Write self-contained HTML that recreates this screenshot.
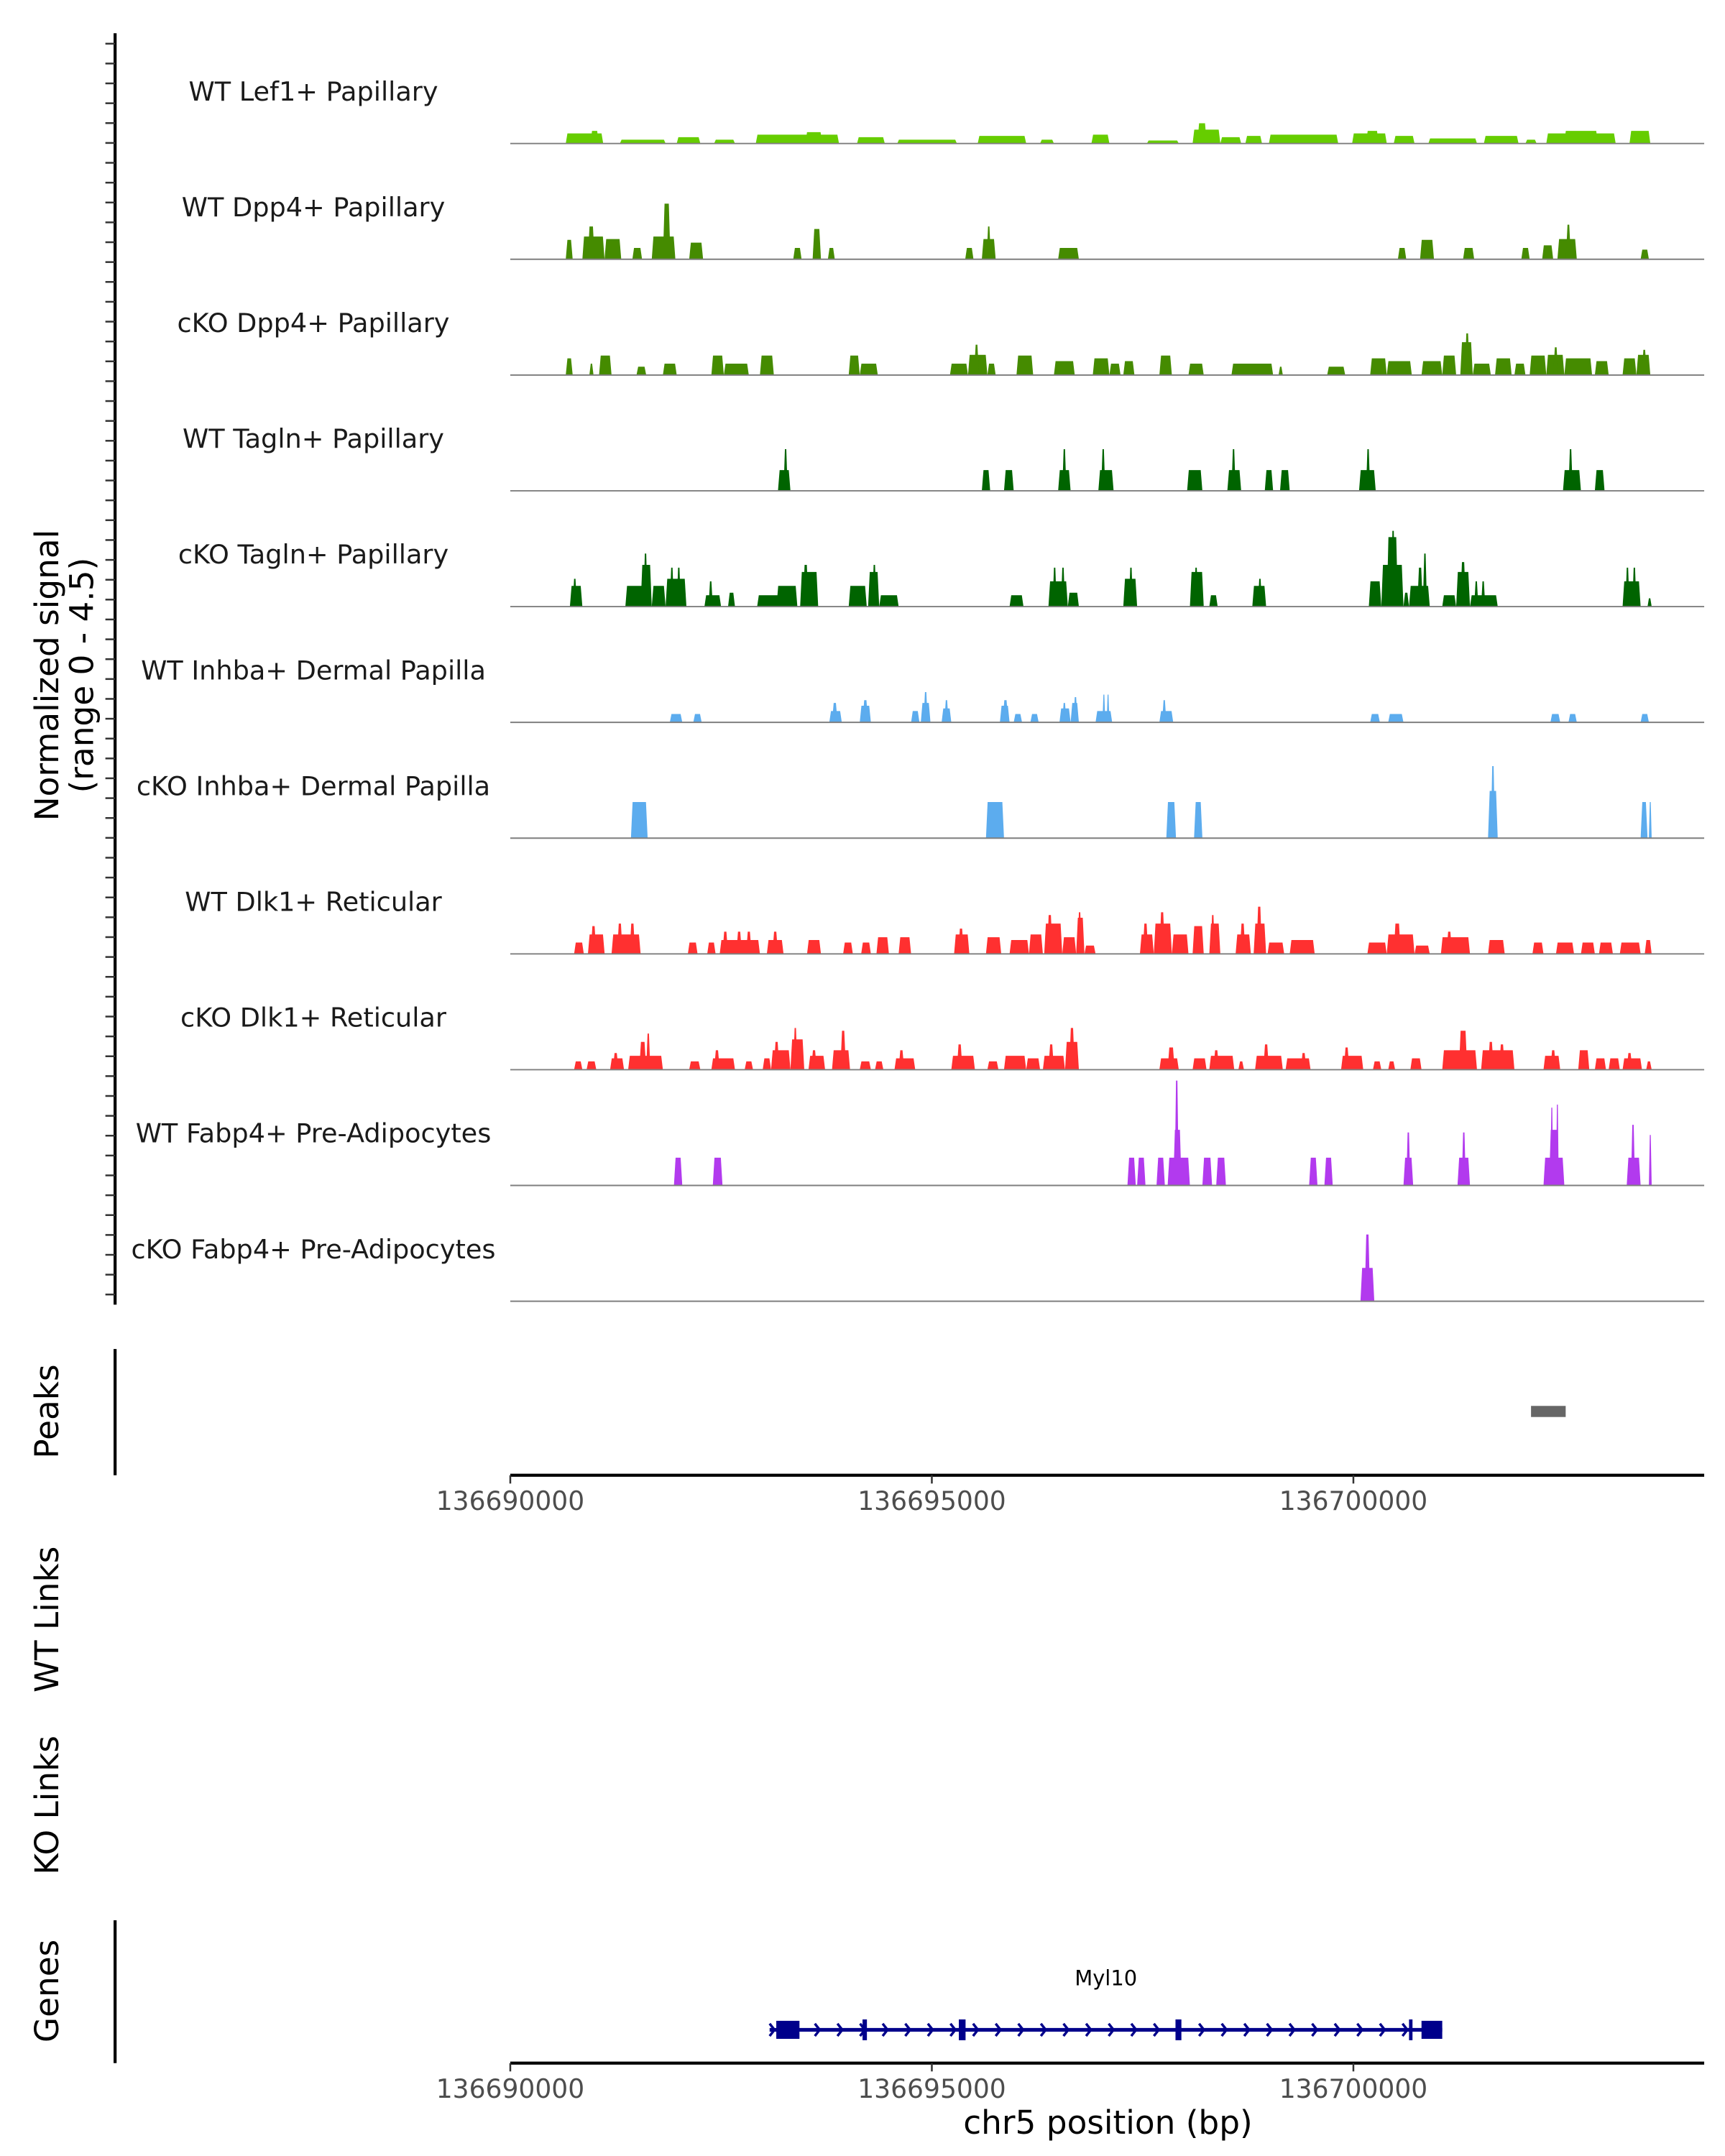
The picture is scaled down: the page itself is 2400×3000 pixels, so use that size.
<!DOCTYPE html>
<html><head><meta charset="utf-8"><style>
html,body{margin:0;padding:0;background:#fff;}
svg{display:block;}
text{font-family:"DejaVu Sans","Liberation Sans",sans-serif;}
</style></head><body>
<svg id="chart" xmlns="http://www.w3.org/2000/svg" width="2400" height="3000" viewBox="0 0 1244 1555" preserveAspectRatio="none">
<rect x="0" y="0" width="1244" height="1555" fill="#fff"/>
<g id="tracks"></g>
<g id="axes"></g>
</svg>
<script>
const REGION_START = 136690000;
const REGION_END = 136704161;
const Y_MAX = 4.5;
const trackNames = ["WT Lef1+ Papillary","WT Dpp4+ Papillary","cKO Dpp4+ Papillary","WT Tagln+ Papillary","cKO Tagln+ Papillary","WT Inhba+ Dermal Papilla","cKO Inhba+ Dermal Papilla","WT Dlk1+ Reticular","cKO Dlk1+ Reticular","WT Fabp4+ Pre-Adipocytes","cKO Fabp4+ Pre-Adipocytes"];
const trackColors = ["#66cd00","#458b00","#458b00","#006400","#006400","#5cacee","#5cacee","#ff3030","#ff3030","#b23aee","#b23aee"];
// segments: [startOffsetBp, endOffsetBp, signal]
const lef1WT = [[658,1102,0.4],[950,1050,0.5],[1300,1842,0.15],[1974,2254,0.25],[2418,2665,0.15],[2912,3899,0.35],[3500,3700,0.45],[4113,4442,0.25],[4590,5297,0.15],[5544,6119,0.3],[6284,6448,0.15],[6893,7106,0.35],[7551,7929,0.12],[8093,8422,0.55],[8150,8260,0.8],[8422,8669,0.25],[8719,8916,0.3],[8998,9820,0.35],[9985,10396,0.4],[10150,10300,0.5],[10479,10725,0.3],[10890,11466,0.2],[11548,11959,0.3],[12041,12173,0.15],[12288,13111,0.4],[12500,12900,0.5],[13275,13522,0.5]];
const dpp4WT = [[658,740,0.77],[855,1118,0.9],[920,1000,1.3],[1118,1316,0.8],[1448,1563,0.45],[1678,1958,0.9],[1810,1900,2.2],[2122,2287,0.66],[3356,3455,0.45],[3586,3685,1.2],[3767,3849,0.45],[5396,5494,0.45],[5593,5757,0.8],[5650,5700,1.3],[6498,6744,0.45],[10528,10627,0.45],[10791,10956,0.77],[11301,11433,0.45],[11992,12091,0.45],[12239,12370,0.55],[12420,12650,0.8],[12520,12580,1.37],[13407,13505,0.38]];
const dpp4KO = [[658,740,0.66],[938,987,0.45],[1053,1201,0.77],[1497,1612,0.33],[1810,1974,0.45],[2385,2533,0.77],[2533,2829,0.45],[2961,3126,0.77],[4014,4145,0.77],[4145,4359,0.45],[5215,5429,0.45],[5429,5659,0.8],[5500,5560,1.2],[5659,5757,0.45],[6004,6202,0.77],[6448,6695,0.55],[6909,7106,0.66],[7106,7238,0.45],[7271,7403,0.55],[7699,7847,0.77],[8044,8225,0.45],[8554,9048,0.45],[9113,9163,0.33],[9689,9903,0.33],[10199,10396,0.66],[10396,10693,0.55],[10808,11054,0.55],[11054,11219,0.77],[11268,11416,1.3],[11320,11380,1.65],[11416,11630,0.45],[11680,11877,0.66],[11910,12041,0.45],[12091,12288,0.77],[12288,12502,0.8],[12370,12430,1.1],[12502,12831,0.66],[12864,13028,0.55],[13193,13357,0.66],[13357,13522,0.8],[13420,13480,1.0]];
const taglnWT = [[3175,3323,0.82],[3241,3290,1.65],[5593,5692,0.82],[5856,5971,0.82],[6498,6646,0.82],[6547,6596,1.65],[6975,7156,0.82],[7008,7057,1.65],[8028,8209,0.82],[8505,8669,0.82],[8554,8603,1.65],[8949,9048,0.82],[9130,9245,0.82],[10067,10265,0.82],[10150,10199,1.65],[12486,12699,0.82],[12551,12601,1.65],[12864,12979,0.82]];
const taglnKO = [[707,855,0.82],[740,790,1.1],[1365,1645,0.82],[1546,1678,1.65],[1579,1629,2.1],[1678,1842,0.82],[1842,2089,1.1],[1892,1941,1.54],[1974,2023,1.54],[2303,2500,0.45],[2352,2402,1.0],[2583,2665,0.55],[2928,3241,0.45],[3158,3405,0.82],[3438,3652,1.37],[3471,3537,1.65],[4014,4228,0.82],[4244,4376,1.37],[4293,4343,1.65],[4376,4606,0.45],[5922,6087,0.45],[6383,6613,1.0],[6432,6481,1.54],[6531,6580,1.54],[6613,6744,0.55],[7271,7435,1.1],[7337,7386,1.54],[8061,8225,1.37],[8110,8159,1.54],[8291,8390,0.45],[8801,8965,0.82],[8867,8916,1.1],[10183,10331,1.0],[10331,10594,1.65],[10396,10528,2.75],[10446,10496,3.0],[10594,10660,0.55],[10660,10906,0.82],[10758,10824,1.54],[10824,10873,2.1],[11054,11219,0.45],[11219,11383,1.37],[11268,11334,1.76],[11383,11712,0.45],[11433,11482,1.0],[11515,11564,1.0],[13193,13407,1.0],[13226,13275,1.54],[13308,13357,1.54],[13489,13538,0.33]];
const inhbaWT = [[1892,2040,0.33],[2171,2270,0.33],[3784,3932,0.45],[3816,3882,0.77],[4145,4277,0.66],[4178,4244,0.88],[4754,4853,0.45],[4869,4984,0.77],[4902,4951,1.2],[5116,5231,0.55],[5149,5198,0.88],[5807,5922,0.66],[5840,5906,0.88],[5971,6070,0.33],[6169,6267,0.33],[6514,6646,0.55],[6547,6596,0.77],[6646,6744,0.77],[6679,6728,1.0],[6942,7139,0.45],[7024,7057,1.1],[7074,7106,1.1],[7699,7863,0.45],[7732,7781,0.88],[10199,10314,0.33],[10413,10594,0.33],[12337,12453,0.33],[12551,12650,0.33],[13407,13505,0.33]];
const inhbaKO = [[1431,1629,1.43],[5642,5856,1.43],[7781,7896,1.43],[8110,8209,1.43],[11597,11712,1.87],[11630,11680,2.85],[13407,13489,1.43],[13505,13538,1.43]];
const dlk1WT = [[757,872,0.45],[921,1119,0.77],[954,1020,1.1],[1201,1546,0.77],[1267,1332,1.2],[1415,1481,1.2],[2106,2221,0.45],[2336,2435,0.45],[2484,2961,0.55],[2517,2583,0.88],[2681,2747,0.88],[2797,2862,0.88],[3043,3241,0.55],[3109,3175,0.88],[3520,3685,0.55],[3948,4063,0.45],[4162,4277,0.45],[4343,4491,0.66],[4606,4754,0.66],[5264,5445,0.77],[5313,5379,1.0],[5642,5823,0.66],[5922,6152,0.55],[6152,6317,0.77],[6333,6547,1.2],[6366,6432,1.54],[6547,6712,0.66],[6712,6810,1.43],[6728,6777,1.65],[6810,6942,0.33],[7468,7633,0.77],[7501,7567,1.2],[7633,7847,1.2],[7699,7764,1.65],[7847,8044,0.77],[8093,8225,1.1],[8291,8422,1.2],[8307,8357,1.54],[8603,8784,0.77],[8653,8719,1.2],[8817,8965,1.2],[8850,8916,1.87],[8982,9179,0.45],[9245,9541,0.55],[10166,10396,0.45],[10396,10725,0.77],[10479,10561,1.2],[10725,10906,0.33],[11038,11383,0.66],[11104,11170,0.88],[11597,11795,0.55],[12124,12255,0.45],[12403,12617,0.45],[12699,12864,0.45],[12913,13078,0.45],[13160,13407,0.45],[13456,13538,0.55]];
const dlk1KO = [[757,855,0.33],[905,1020,0.33],[1184,1349,0.45],[1217,1283,0.66],[1398,1810,0.55],[1530,1612,1.1],[1612,1661,1.43],[2122,2254,0.33],[2385,2665,0.45],[2418,2484,0.77],[2780,2879,0.33],[2994,3093,0.45],[3093,3323,0.77],[3126,3191,1.1],[3323,3487,1.2],[3356,3405,1.65],[3537,3734,0.55],[3570,3635,0.77],[3816,4030,0.77],[3915,3981,1.54],[4145,4277,0.33],[4326,4425,0.33],[4557,4803,0.45],[4606,4672,0.77],[5231,5511,0.55],[5297,5363,1.0],[5659,5790,0.33],[5856,6119,0.55],[6119,6284,0.45],[6317,6580,0.55],[6383,6448,1.0],[6580,6744,1.1],[6629,6695,1.65],[7699,7929,0.45],[7797,7880,0.88],[8093,8258,0.45],[8291,8587,0.55],[8340,8406,0.77],[8636,8702,0.33],[8834,9163,0.55],[8932,8998,1.0],[9196,9492,0.45],[9377,9442,0.66],[9854,10117,0.55],[9887,9952,0.88],[10232,10331,0.33],[10413,10495,0.33],[10676,10808,0.45],[11054,11466,0.77],[11252,11350,1.54],[11515,11910,0.77],[11597,11663,1.1],[11729,11795,1.0],[12255,12453,0.55],[12337,12403,0.77],[12667,12798,0.77],[12864,12996,0.45],[13028,13160,0.45],[13193,13423,0.45],[13242,13308,0.66],[13473,13538,0.33]];
const fabp4WT = [[1941,2040,1.1],[2402,2517,1.1],[7320,7419,1.1],[7435,7534,1.1],[7665,7764,1.1],[7797,8061,1.1],[7863,7962,2.2],[7880,7929,4.15],[8209,8324,1.1],[8373,8488,1.1],[9475,9574,1.1],[9656,9755,1.1],[10594,10709,1.1],[10627,10676,2.1],[11235,11383,1.1],[11285,11334,2.1],[12255,12502,1.1],[12321,12436,2.2],[12337,12370,3.08],[12403,12436,3.2],[13242,13407,1.1],[13292,13341,2.4],[13505,13538,2.0]];
const fabp4KO = [[10084,10248,1.32],[10133,10199,2.64]];
const trackData = [lef1WT,dpp4WT,dpp4KO,taglnWT,taglnKO,inhbaWT,inhbaKO,dlk1WT,dlk1KO,fabp4WT,fabp4KO];
const peakRegions = [[12107,12518]];
const geneName = "Myl10";
const geneSpan = [3076,11054];
const geneExons = [[3155,3430],[4178,4230],[5320,5400],[7890,7960],[10660,10693],[10808,11054]];
const axisTicks = [136690000,136695000,136700000];

const NS="http://www.w3.org/2000/svg";
const X0=368,X1=1229;
function xs(off){return X0+off/(REGION_END-REGION_START)*(X1-X0);}
function xg(bp){return xs(bp-REGION_START);}
const TRACK_TOP=20, TRACK_H=83.5;
function mk(tag,attrs,parent){const e=document.createElementNS(NS,tag);for(const k in attrs)e.setAttribute(k,attrs[k]);parent.appendChild(e);return e;}
const tracks=document.getElementById('tracks');
const axes=document.getElementById('axes');

trackData.forEach((segs,i)=>{
  const base=TRACK_TOP+TRACK_H*(i+1);
  const ys=v=>base-v/Y_MAX*82;
  const g=mk('g',{},tracks);
  
  
  const lab=mk('text',{x:226,y:base-31,'text-anchor':'middle','font-size':19,fill:'#1a1a1a'},g);
  lab.textContent=trackNames[i];
  
  
  segs.forEach(s=>{
    const a=xs(s[0]),b=xs(s[1]),t=ys(s[2]);const r=Math.min(1.2,(b-a)/3);
    const p=mk('polygon',{points:`${a},${base} ${a+r},${t} ${b-r},${t} ${b},${base}`,fill:trackColors[i]},g);
    
    
  });
  const bl=mk('line',{x1:X0,x2:X1,y1:base,y2:base,stroke:'#7f7f7f','stroke-width':1},g);
  
  
});

// left axis for tracks
mk('line',{x1:83,x2:83,y1:24,y2:941,stroke:'#000','stroke-width':2.2},axes);
for(let y=31.5;y<=941;y+=14.32){mk('line',{x1:76,x2:83,y1:y,y2:y,stroke:'#333','stroke-width':1.3},axes);}
const yt=mk('text',{transform:'translate(42,487) rotate(-90)','text-anchor':'middle','font-size':23.5,fill:'#000'},axes);
yt.textContent='Normalized signal';


const yt2=mk('text',{transform:'translate(67,487) rotate(-90)','text-anchor':'middle','font-size':23.5,fill:'#000'},axes);
yt2.textContent='(range 0 - 4.5)';



// peaks
mk('line',{x1:83,x2:83,y1:973,y2:1064,stroke:'#000','stroke-width':2.2},axes);
const pl=mk('text',{transform:'translate(42,1018) rotate(-90)','text-anchor':'middle','font-size':23.5,fill:'#000'},axes);
pl.textContent='Peaks';


peakRegions.forEach(p=>{
  const r=mk('rect',{x:xs(p[0]),y:1014,width:xs(p[1])-xs(p[0]),height:8,fill:'#666'},axes);
  
  
});
function xAxis(y,name){
  const g=mk('g',{},axes);
  
  
  mk('line',{x1:X0,x2:X1,y1:y,y2:y,stroke:'#000','stroke-width':2.2},g);
  axisTicks.forEach(t=>{
    const x=xg(t);
    mk('line',{x1:x,x2:x,y1:y,y2:y+6,stroke:'#333','stroke-width':1.3},g);
    const tx=mk('text',{x:x,y:y+25,'text-anchor':'middle','font-size':18.7,fill:'#4d4d4d'},g);
    tx.textContent=String(t);
  });
}
xAxis(1064,'peaks-x-axis');

const wl=mk('text',{transform:'translate(42,1168) rotate(-90)','text-anchor':'middle','font-size':23.5,fill:'#000'},axes);
wl.textContent='WT Links';


const kl=mk('text',{transform:'translate(42,1302) rotate(-90)','text-anchor':'middle','font-size':23.5,fill:'#000'},axes);
kl.textContent='KO Links';



// genes
mk('line',{x1:83,x2:83,y1:1385,y2:1488,stroke:'#000','stroke-width':2.2},axes);
const gl=mk('text',{transform:'translate(42,1436) rotate(-90)','text-anchor':'middle','font-size':23.5,fill:'#000'},axes);
gl.textContent='Genes';


const gg=mk('g',{},axes);


const gy=1464;
mk('line',{x1:xs(geneSpan[0]),x2:xs(geneSpan[1]),y1:gy,y2:gy,stroke:'#00008b','stroke-width':2.6},gg);
for(let x=xs(geneSpan[0])+2;x<xs(geneSpan[1])-4;x+=16.3){
  mk('polyline',{points:`${x-2},${gy-4.5} ${x+1.5},${gy} ${x-2},${gy+4.5}`,fill:'none',stroke:'#00008b','stroke-width':1.8},gg);
}
geneExons.forEach(e=>{
  const a=xs(e[0]),b=xs(e[1]);const w=b-a;const h=w>8?13:15;
  mk('rect',{x:a,y:gy-h/2,width:Math.max(w,2.5),height:h,fill:'#00008b'},gg);
});
const gn=mk('text',{x:xs((geneSpan[0]+geneSpan[1])/2),y:1432,'text-anchor':'middle','font-size':15,fill:'#000'},gg);
gn.textContent=geneName;
xAxis(1488,'genome-x-axis');
const xt=mk('text',{x:799,y:1539,'text-anchor':'middle','font-size':23.5,fill:'#000'},axes);
xt.textContent='chr5 position (bp)';


</script>
</body></html>
